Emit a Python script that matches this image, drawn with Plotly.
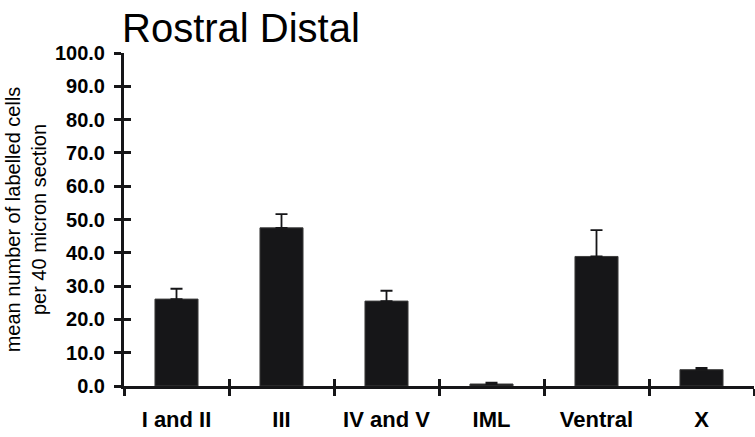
import numpy as np
import plotly.graph_objects as go

# Spinal cord regions and mean labelled-cell counts (+ SEM)
regions = ["I and II", "III", "IV and V", "IML", "Ventral", "X"]
mean_cells = [26.1, 47.5, 25.5, 0.6, 38.9, 4.9]
sem_cells = [3.1, 4.1, 3.1, 0.4, 7.9, 0.5]

y_ticks = np.arange(0, 101, 10)
boundaries = np.arange(len(regions) + 1) - 0.5

INK = "#161618"
FONT = "Liberation Sans, Arial, sans-serif"

fig = go.Figure()
fig.add_trace(go.Bar(
    x=regions,
    y=mean_cells,
    width=0.41,
    marker=dict(color=INK, line=dict(color="#3c3c3c", width=1)),
    error_y=dict(
        type="data",
        array=sem_cells,
        arrayminus=[0] * len(sem_cells),
        symmetric=False,
        color=INK,
        thickness=1.8,
        width=6,
    ),
    showlegend=False,
))

# empty trace that carries the overlay axes (ticks crossing the axis lines)
fig.add_trace(go.Scatter(
    x=[None], y=[None], xaxis="x2", yaxis="y2",
    mode="markers", showlegend=False, hoverinfo="skip",
))

fig.update_layout(
    width=755,
    height=437,
    margin=dict(l=124, r=1, t=53, b=51),
    paper_bgcolor="white",
    plot_bgcolor="white",
    title=dict(
        text="Rostral Distal",
        font=dict(family=FONT, size=40, color="#000000"),
        x=0, xref="paper", xanchor="left",
        y=1, yref="container", yanchor="top",
        pad=dict(t=14, l=-2),
    ),
    xaxis=dict(
        type="category",
        categoryorder="array",
        categoryarray=regions,
        range=[-0.5, len(regions) - 0.5],
        tickson="boundaries",
        ticks="outside",
        ticklen=7,
        tickwidth=3,
        tickcolor=INK,
        showline=True,
        linewidth=3,
        linecolor=INK,
        showgrid=False,
        zeroline=False,
        tickfont=dict(family=FONT, size=22, color="#000000", weight="bold"),
        ticklabelstandoff=12,
    ),
    xaxis2=dict(
        type="linear",
        overlaying="x",
        anchor="y",
        range=[-0.5, len(regions) - 0.5],
        tickmode="array",
        tickvals=boundaries,
        ticks="inside",
        ticklen=7,
        tickwidth=3,
        tickcolor=INK,
        showticklabels=False,
        showline=False,
        showgrid=False,
        zeroline=False,
    ),
    yaxis=dict(
        range=[0, 100],
        tickmode="array",
        tickvals=y_ticks,
        tickformat=".1f",
        ticks="outside",
        ticklen=7,
        tickwidth=3,
        tickcolor=INK,
        showline=True,
        linewidth=3,
        linecolor=INK,
        showgrid=False,
        zeroline=False,
        tickfont=dict(family=FONT, size=20, color="#000000", weight="bold"),
        ticklabelstandoff=5,
        title=dict(
            text="mean number of labelled cells<br>per 40 micron section",
            font=dict(family=FONT, size=20, color="#000000"),
            standoff=3,
        ),
    ),
    yaxis2=dict(
        type="linear",
        overlaying="y",
        anchor="x",
        side="left",
        range=[0, 100],
        tickmode="array",
        tickvals=y_ticks,
        ticks="inside",
        ticklen=7,
        tickwidth=3,
        tickcolor=INK,
        showticklabels=False,
        showline=False,
        showgrid=False,
        zeroline=False,
    ),
)

fig.write_html("out.html")
